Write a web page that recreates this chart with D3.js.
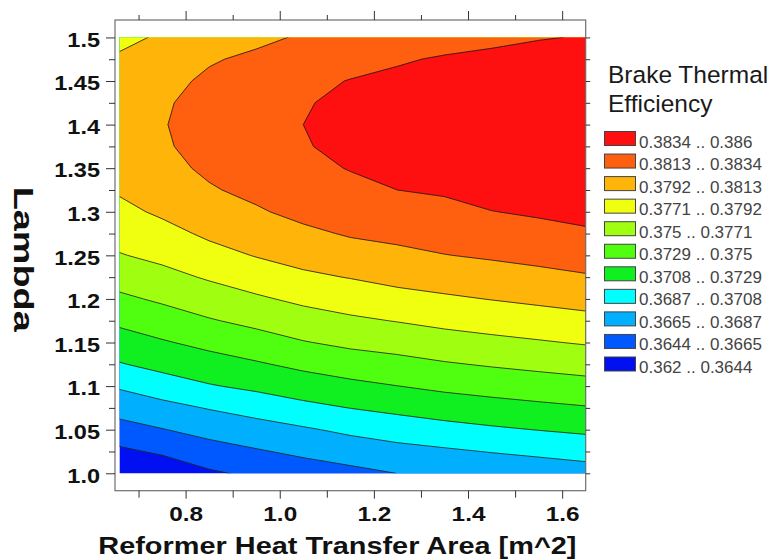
<!DOCTYPE html>
<html>
<head>
<meta charset="utf-8">
<script src="https://cdn.jsdelivr.net/npm/d3@7"></script>
<style>
  body { margin: 0; background: #fff; }
  svg { display: block; font-family: "Liberation Sans", Arial, sans-serif; }
</style>
</head>
<body>
<div id="chart"></div>
<script>
// grid of the response surface
const areaValues = [0.66, 0.75, 0.85, 0.95, 1.05, 1.15, 1.25, 1.35, 1.45, 1.55, 1.65];
const lambdaValues = [1.0, 1.025, 1.05, 1.075, 1.1, 1.125, 1.15, 1.175, 1.2, 1.225, 1.25,
  1.275, 1.3, 1.325, 1.35, 1.375, 1.4, 1.425, 1.45, 1.475, 1.5];

// one row per lambda value, one column per area value
const efficiency = [
  [0.36226, 0.36296, 0.36412, 0.36480, 0.36542, 0.36595, 0.36652, 0.36678, 0.36714, 0.36747, 0.36780],
  [0.36402, 0.36470, 0.36564, 0.36630, 0.36693, 0.36751, 0.36806, 0.36841, 0.36879, 0.36913, 0.36949],
  [0.36570, 0.36641, 0.36720, 0.36784, 0.36845, 0.36913, 0.36964, 0.37011, 0.37051, 0.37085, 0.37116],
  [0.36734, 0.36805, 0.36882, 0.36951, 0.37026, 0.37083, 0.37131, 0.37177, 0.37214, 0.37246, 0.37276],
  [0.36895, 0.36981, 0.37065, 0.37123, 0.37186, 0.37240, 0.37288, 0.37334, 0.37369, 0.37401, 0.37431],
  [0.37067, 0.37140, 0.37206, 0.37268, 0.37337, 0.37396, 0.37436, 0.37482, 0.37518, 0.37550, 0.37581],
  [0.37201, 0.37271, 0.37344, 0.37413, 0.37489, 0.37543, 0.37579, 0.37625, 0.37661, 0.37693, 0.37726],
  [0.37331, 0.37402, 0.37484, 0.37552, 0.37622, 0.37677, 0.37718, 0.37762, 0.37796, 0.37829, 0.37863],
  [0.37462, 0.37530, 0.37609, 0.37682, 0.37752, 0.37802, 0.37856, 0.37892, 0.37926, 0.37959, 0.37991],
  [0.37583, 0.37649, 0.37731, 0.37808, 0.37883, 0.37928, 0.37976, 0.38010, 0.38043, 0.38078, 0.38112],
  [0.37699, 0.37758, 0.37850, 0.37930, 0.37991, 0.38047, 0.38086, 0.38125, 0.38154, 0.38183, 0.38215],
  [0.37786, 0.37854, 0.37955, 0.38024, 0.38090, 0.38148, 0.38177, 0.38213, 0.38245, 0.38277, 0.38313],
  [0.37870, 0.37951, 0.38045, 0.38109, 0.38181, 0.38234, 0.38264, 0.38296, 0.38336, 0.38365, 0.38395],
  [0.37942, 0.38024, 0.38113, 0.38175, 0.38251, 0.38300, 0.38340, 0.38359, 0.38410, 0.38422, 0.38454],
  [0.37980, 0.38077, 0.38161, 0.38222, 0.38300, 0.38347, 0.38381, 0.38404, 0.38455, 0.38465, 0.38497],
  [0.38002, 0.38109, 0.38190, 0.38251, 0.38330, 0.38376, 0.38410, 0.38431, 0.38476, 0.38491, 0.38522],
  [0.38010, 0.38120, 0.38200, 0.38260, 0.38340, 0.38385, 0.38420, 0.38440, 0.38480, 0.38500, 0.38531],
  [0.38002, 0.38109, 0.38190, 0.38251, 0.38328, 0.38376, 0.38410, 0.38431, 0.38468, 0.38488, 0.38518],
  [0.37980, 0.38077, 0.38161, 0.38222, 0.38293, 0.38347, 0.38381, 0.38404, 0.38437, 0.38455, 0.38484],
  [0.37942, 0.38024, 0.38113, 0.38165, 0.38233, 0.38270, 0.38320, 0.38359, 0.38385, 0.38403, 0.38430],
  [0.37880, 0.37940, 0.38045, 0.38090, 0.38150, 0.38180, 0.38222, 0.38260, 0.38295, 0.38330, 0.38350],
];

const levelBreaks = [0.362, 0.3644, 0.3665, 0.3687, 0.3708, 0.3729, 0.375, 0.3771, 0.3792, 0.3813, 0.3834, 0.386];

const areaAxisRange = [0.65, 1.65];
const lambdaAxisRange = [0.98, 1.52];
const areaMajorTicks = [0.8, 1.0, 1.2, 1.4, 1.6];
const areaTickLabels = ['0.8', '1.0', '1.2', '1.4', '1.6'];
const areaMinorTicks = [0.7, 0.9, 1.1, 1.3, 1.5];
const lambdaMajorTicks = [1.0, 1.05, 1.1, 1.15, 1.2, 1.25, 1.3, 1.35, 1.4, 1.45, 1.5];
const lambdaTickLabels = ['1.0', '1.05', '1.1', '1.15', '1.2', '1.25', '1.3', '1.35', '1.4', '1.45', '1.5'];
const lambdaMinorTicks = [1.025, 1.075, 1.125, 1.175, 1.225, 1.275, 1.325, 1.375, 1.425, 1.475];

const bandColors = ['#0010f0', '#0058ff', '#00b0ff', '#00ffff', '#10f020', '#50ff10',
  '#a0ff10', '#f0ff10', '#ffb40a', '#ff6010', '#ff1010'];

const width = 776;
const height = 560;
const frame = {
  left: 115, right: 585.7, top: 20, bottom: 490.7,
};

const svg = d3.select('#chart')
  .append('svg')
  .attr('width', width)
  .attr('height', height);

const xScale = d3.scaleLinear().domain(areaAxisRange).range([frame.left, frame.right]);
const yScale = d3.scaleLinear().domain(lambdaAxisRange).range([frame.bottom, frame.top]);

// grid index -> data value (piecewise, so uneven spacing is fine)
const nx = areaValues.length;
const ny = lambdaValues.length;
const gridX = d3.scaleLinear().domain(d3.range(nx)).range(areaValues);
const gridY = d3.scaleLinear().domain(d3.range(ny)).range(lambdaValues);

const toScreen = d3.geoTransform({
  point(x, y) {
    this.stream.point(xScale(gridX(x - 0.5)), yScale(gridY(y - 0.5)));
  },
});
const path = d3.geoPath(toScreen);

const thresholds = levelBreaks.slice(0, -1);
const bands = d3.contours()
  .size([nx, ny])
  .thresholds(thresholds)(efficiency.flat());

svg.append('clipPath')
  .attr('id', 'plot-clip')
  .append('rect')
  .attr('x', xScale(d3.min(areaValues)))
  .attr('y', yScale(d3.max(lambdaValues)))
  .attr('width', xScale(d3.max(areaValues)) - xScale(d3.min(areaValues)))
  .attr('height', yScale(d3.min(lambdaValues)) - yScale(d3.max(lambdaValues)));

const plot = svg.append('g').attr('clip-path', 'url(#plot-clip)');

// filled bands, lowest first
plot.selectAll('path.band')
  .data(bands)
  .enter()
  .append('path')
  .attr('class', 'band')
  .attr('d', path)
  .attr('fill', (d, i) => bandColors[i])
  .attr('stroke', (d, i) => bandColors[i])
  .attr('stroke-width', 0.5);

// contour lines
plot.selectAll('path.line')
  .data(bands.slice(1))
  .enter()
  .append('path')
  .attr('class', 'line')
  .attr('d', path)
  .attr('fill', 'none')
  .attr('stroke', '#1a1a1a')
  .attr('stroke-opacity', 0.8)
  .attr('stroke-width', 1);

// frame
svg.append('rect')
  .attr('x', frame.left)
  .attr('y', frame.top)
  .attr('width', frame.right - frame.left)
  .attr('height', frame.bottom - frame.top)
  .attr('fill', 'none')
  .attr('stroke', '#6e6e6e')
  .attr('stroke-width', 1.2);

const labelFont = 'bold 21px "Liberation Sans", Arial, sans-serif';

function plainAxis(g) {
  g.attr('color', '#333').attr('font-family', null).attr('font-size', null);
  g.select('.domain').remove();
}

// left axis
svg.append('g')
  .attr('transform', `translate(${frame.left},0)`)
  .call(d3.axisLeft(yScale).tickValues(lambdaMinorTicks).tickSize(6).tickFormat(''))
  .call(plainAxis);

svg.append('g')
  .attr('transform', `translate(${frame.left},0)`)
  .call(d3.axisLeft(yScale)
    .tickValues(lambdaMajorTicks)
    .tickSize(9)
    .tickFormat((d, i) => lambdaTickLabels[i]))
  .call(plainAxis)
  .call((g) => g.selectAll('text')
    .attr('x', 0)
    .attr('dy', null)
    .attr('transform', 'translate(-15,8.8) scale(1.12,1)')
    .attr('fill', '#111')
    .style('font', labelFont));

// right axis
svg.append('g')
  .attr('transform', `translate(${frame.right},0)`)
  .call(d3.axisRight(yScale)
    .tickValues(lambdaMajorTicks.concat(lambdaMinorTicks))
    .tickSize(4.5)
    .tickFormat(''))
  .call(plainAxis);

// top axis
svg.append('g')
  .attr('transform', `translate(0,${frame.top})`)
  .call(d3.axisTop(xScale).tickValues(areaMajorTicks).tickSize(9).tickFormat(''))
  .call(plainAxis);

svg.append('g')
  .attr('transform', `translate(0,${frame.top})`)
  .call(d3.axisTop(xScale).tickValues(areaMinorTicks).tickSize(5).tickFormat(''))
  .call(plainAxis);

// bottom axis
svg.append('g')
  .attr('transform', `translate(0,${frame.bottom})`)
  .call(d3.axisBottom(xScale).tickValues(areaMinorTicks).tickSize(7).tickFormat(''))
  .call(plainAxis);

svg.append('g')
  .attr('transform', `translate(0,${frame.bottom})`)
  .call(d3.axisBottom(xScale)
    .tickValues(areaMajorTicks)
    .tickSize(8)
    .tickFormat((d, i) => areaTickLabels[i]))
  .call(plainAxis)
  .call((g) => g.selectAll('text')
    .attr('y', 0)
    .attr('dy', null)
    .attr('transform', 'translate(0,29.8) scale(1.16,1)')
    .attr('fill', '#111')
    .style('font', labelFont));

// axis titles
svg.append('text')
  .attr('transform', 'translate(337.4,554.3) scale(1.256,1)')
  .attr('text-anchor', 'middle')
  .style('font', 'bold 23px "Liberation Sans", Arial, sans-serif')
  .attr('fill', '#111')
  .text('Reformer Heat Transfer Area [m^2]');

svg.append('text')
  .attr('transform', 'translate(13.5,259.2) rotate(90) scale(1.35,1)')
  .attr('text-anchor', 'middle')
  .style('font', 'bold 28px "Liberation Sans", Arial, sans-serif')
  .attr('fill', '#111')
  .text('Lambda');

// legend
const legend = svg.append('g');

legend.selectAll('text.title')
  .data(['Brake Thermal', 'Efficiency'])
  .enter()
  .append('text')
  .attr('class', 'title')
  .attr('x', 608)
  .attr('y', (d, i) => 83.3 + i * 29)
  .style('font', '24.5px "Liberation Sans", Arial, sans-serif')
  .attr('fill', '#1a1a1a')
  .text((d) => d);

const legendRows = d3.range(thresholds.length).reverse();

const row = legend.selectAll('g.row')
  .data(legendRows)
  .enter()
  .append('g')
  .attr('class', 'row')
  .attr('transform', (d, i) => `translate(604.5,${131.5 + i * 22.55})`);

row.append('rect')
  .attr('width', 31)
  .attr('height', 14)
  .attr('fill', (d) => bandColors[d])
  .attr('stroke', '#444')
  .attr('stroke-width', 1);

row.append('text')
  .attr('x', 34.5)
  .attr('y', 16)
  .style('font', '17px "Liberation Sans", Arial, sans-serif')
  .attr('fill', '#444')
  .text((d) => `${levelBreaks[d]} .. ${levelBreaks[d + 1]}`);
</script>
</body>
</html>
